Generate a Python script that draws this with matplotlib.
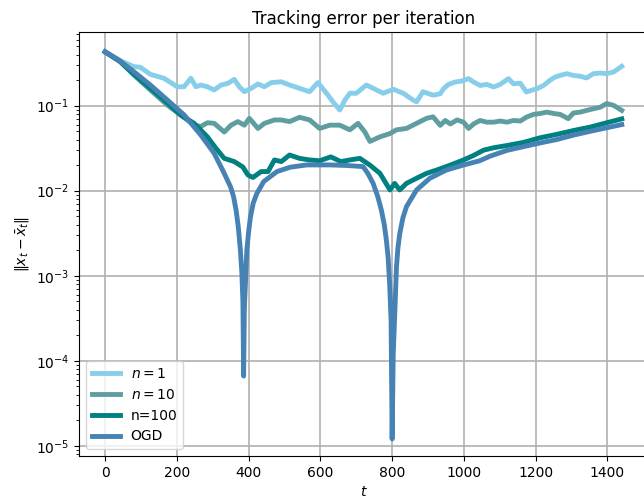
import matplotlib
matplotlib.use("Agg")
import matplotlib.pyplot as plt

# n = 1
t_n1 = [0, 42, 80, 98, 126, 164, 201, 220, 239, 253, 267, 285, 304, 323, 342, 360, 374, 388,
        407, 426, 444, 463, 491, 514, 542, 570, 593, 617, 635, 654, 668, 682, 700, 728, 747,
        775, 803, 831, 859, 868, 886, 914, 934, 943, 957, 976, 994, 1013, 1027, 1045, 1064,
        1083, 1101, 1124, 1138, 1157, 1174, 1189, 1203, 1222, 1240, 1254, 1268, 1287, 1305,
        1324, 1342, 1361, 1380, 1398, 1417, 1440]
v_n1 = [0.43, 0.34, 0.288, 0.283, 0.234, 0.21, 0.167, 0.167, 0.21, 0.167, 0.175, 0.167, 0.153,
        0.175, 0.183, 0.204, 0.167, 0.146, 0.16, 0.18, 0.167, 0.187, 0.191, 0.175, 0.16, 0.146,
        0.187, 0.14, 0.111, 0.089, 0.116, 0.14, 0.14, 0.175, 0.16, 0.14, 0.156, 0.14, 0.116,
        0.111, 0.146, 0.133, 0.138, 0.158, 0.178, 0.19, 0.195, 0.208, 0.19, 0.173, 0.178,
        0.166, 0.178, 0.208, 0.181, 0.184, 0.145, 0.152, 0.158, 0.173, 0.199, 0.217, 0.227,
        0.238, 0.227, 0.222, 0.212, 0.238, 0.242, 0.238, 0.249, 0.29]

# n = 10
t_n10 = [0, 42, 80, 126, 173, 210, 248, 267, 285, 304, 332, 351, 370, 388, 402, 426, 444, 472,
         491, 514, 542, 570, 598, 626, 654, 682, 705, 724, 738, 766, 794, 812, 840, 868, 896,
         914, 934, 948, 962, 981, 999, 1013, 1027, 1045, 1064, 1083, 1101, 1120, 1138, 1157,
         1175, 1194, 1213, 1231, 1250, 1268, 1291, 1305, 1324, 1342, 1361, 1380, 1398, 1417,
         1440]
v_n10 = [0.43, 0.33, 0.23, 0.153, 0.102, 0.078, 0.059, 0.057, 0.063, 0.062, 0.049, 0.059, 0.065,
         0.059, 0.071, 0.054, 0.062, 0.068, 0.068, 0.065, 0.073, 0.068, 0.054, 0.059, 0.059,
         0.052, 0.062, 0.049, 0.038, 0.043, 0.047, 0.052, 0.054, 0.062, 0.071, 0.074, 0.0587,
         0.067, 0.061, 0.068, 0.064, 0.054, 0.061, 0.067, 0.064, 0.064, 0.066, 0.064, 0.067,
         0.066, 0.0736, 0.079, 0.081, 0.084, 0.081, 0.079, 0.0704, 0.082, 0.084, 0.088, 0.092,
         0.096, 0.106, 0.101, 0.088]

# n = 100
t_n100 = [0, 42, 80, 126, 173, 210, 248, 285, 309, 332, 360, 384, 398, 412, 435, 454, 472, 491,
          514, 542, 570, 598, 629, 657, 682, 710, 738, 766, 794, 807, 821, 840, 868, 896, 924,
          962, 999, 1027, 1055, 1083, 1120, 1166, 1213, 1259, 1305, 1352, 1398, 1440]
v_n100 = [0.43, 0.33, 0.235, 0.16, 0.108, 0.078, 0.062, 0.043, 0.0315, 0.024, 0.022, 0.019,
          0.0153, 0.0143, 0.0168, 0.0168, 0.023, 0.022, 0.0263, 0.024, 0.023, 0.0225, 0.025,
          0.022, 0.023, 0.024, 0.02, 0.016, 0.0102, 0.0122, 0.0102, 0.0122, 0.014, 0.016,
          0.0175, 0.02, 0.023, 0.026, 0.030, 0.032, 0.034, 0.037, 0.042, 0.046, 0.051, 0.056,
          0.063, 0.070]

# OGD
t_ogd = [0, 42, 80, 126, 173, 220, 267, 304, 332, 340, 350, 358, 365, 371, 377, 381, 384, 386,
         388, 391, 395, 400, 405, 413, 423, 442, 479, 516, 562, 627, 673, 719, 733, 747, 760,
         770, 778, 784, 789, 793, 797, 800, 803, 807, 812, 816, 821, 830, 840, 868, 905, 951,
         998, 1044, 1073, 1120, 1166, 1213, 1259, 1305, 1352, 1398, 1440]
v_ogd = [0.43, 0.335, 0.251, 0.175, 0.117, 0.078, 0.045, 0.0275, 0.016, 0.0135, 0.011, 0.0085,
         0.0059, 0.0038, 0.002, 0.0011, 0.0005, 6.6e-5, 0.0004, 0.0008, 0.002, 0.0033, 0.0049,
         0.0072, 0.0093, 0.0128, 0.0168, 0.0189, 0.0201, 0.0201, 0.0198, 0.0192, 0.0158,
         0.0122, 0.0085, 0.0059, 0.0040, 0.0026, 0.0016, 0.0008, 0.0003, 1.2e-5, 0.00012,
         0.00033, 0.00126, 0.0021, 0.0031, 0.0048, 0.0065, 0.0102, 0.014, 0.0175, 0.020, 0.0225,
         0.0255, 0.0298, 0.033, 0.0365, 0.040, 0.045, 0.050, 0.055, 0.060]

labels = ["$n=1$", "$n=10$", "n=100", "OGD"]
colors = ["#87CEEB", "#5F9EA0", "#008080", "#4682B4"]

fig = plt.figure(figsize=(6.44, 5.04), dpi=100)
ax = fig.add_axes([79.3 / 644, 48 / 504, 568.3 / 644, 424 / 504])

series = [(t_n1, v_n1), (t_n10, v_n10), (t_n100, v_n100), (t_ogd, v_ogd)]
for (tt, vv), lab, col in zip(series, labels, colors):
    ax.plot(tt, vv, color=col, lw=3.5, label=lab)

ax.set_yscale("log")
ax.set_xlim(-72, 1512)
ax.set_ylim(7.57e-6, 0.736)
ax.grid(True, color="#b0b0b0", lw=1.2)
ax.set_title("Tracking error per iteration")
ax.set_xlabel("$t$")
ax.set_ylabel(r"$\|x_t - \bar{x}_t\|$")
ax.legend(loc="lower left")

fig.savefig("out.png", dpi=100)
